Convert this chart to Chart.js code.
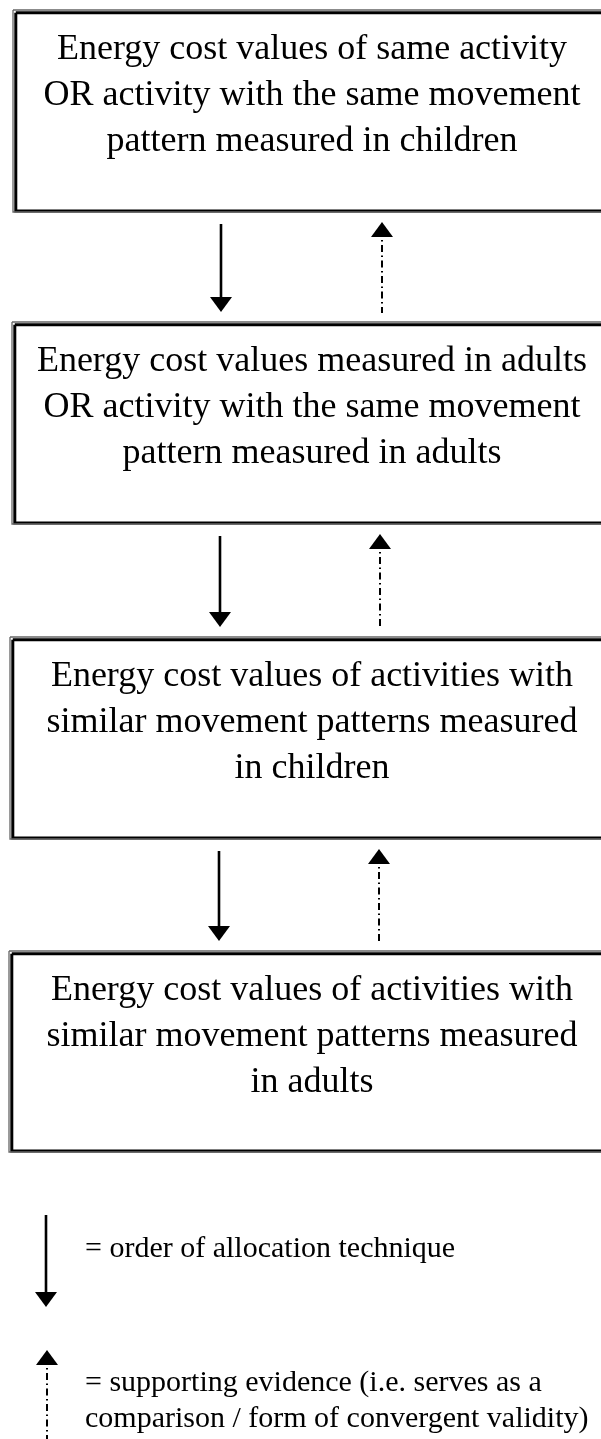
<!DOCTYPE html>
<html>
<head>
<meta charset="utf-8">
<script src="https://cdn.jsdelivr.net/npm/chart.js@4.4.0/dist/chart.umd.min.js"></script>
<style>
  html, body { margin: 0; padding: 0; background: #fff; }
  #wrap { width: 601px; height: 1439px; position: relative; }
</style>
</head>
<body>
<div id="wrap"><canvas id="flow"></canvas></div>
<script>
// texts of the four steps (top to bottom)
const stepLines = [
  ['Energy cost values of same activity', 'OR activity with the same movement', 'pattern measured in children'],
  ['Energy cost values measured in adults', 'OR activity with the same movement', 'pattern measured in adults'],
  ['Energy cost values of activities with', 'similar movement patterns measured', 'in children'],
  ['Energy cost values of activities with', 'similar movement patterns measured', 'in adults']
];
const legendOrder = ['= order of allocation technique'];
const legendSupport = ['= supporting evidence (i.e. serves as a', 'comparison / form of convergent validity)'];

// layout (page units, y grows downward)
const boxTop = [10, 322, 637, 951];
const boxBottom = [212, 524, 839, 1152];
const boxLeft = [13, 12, 10, 9];
const boxRight = 625;
const textX = 312;
const downX = [221, 220, 219];
const upX = [382, 380, 379];
const legendX = { down: 46, up: 47, text: 85 };

const FONT = '"Liberation Serif", "Times New Roman", serif';
const HEAD_W = 22, HEAD_H = 15;

function makeHead(up) {
  const c = document.createElement('canvas');
  c.width = HEAD_W; c.height = HEAD_H;
  const g = c.getContext('2d');
  g.fillStyle = '#000';
  g.beginPath();
  if (up) {
    g.moveTo(HEAD_W / 2, 0); g.lineTo(HEAD_W, HEAD_H); g.lineTo(0, HEAD_H);
  } else {
    g.moveTo(0, 0); g.lineTo(HEAD_W, 0); g.lineTo(HEAD_W / 2, HEAD_H);
  }
  g.closePath();
  g.fill();
  return c;
}
const downHead = makeHead(false);
const upHead = makeHead(true);

function rect(x0, y0, x1, y1) {
  return [{x: x0, y: y0}, {x: x1, y: y0}, {x: x1, y: y1}, {x: x0, y: y1}, {x: x0, y: y0}];
}

const datasets = [];

// boxes: thin outer line + heavier inner line
boxTop.forEach((t, i) => {
  const b = boxBottom[i], l = boxLeft[i];
  datasets.push({ data: rect(l, t, boxRight, b), borderColor: '#666', borderWidth: 1.3, pointRadius: 0 });
  datasets.push({ data: rect(l + 2.8, t + 2.8, boxRight, b - 1), borderColor: '#000', borderWidth: 3, pointRadius: 0 });
});

function downArrow(x, top, tip) {
  datasets.push({
    data: [{x, y: top}, {x, y: tip - HEAD_H / 2}],
    borderColor: '#000', borderWidth: 2.6,
    pointRadius: [0, 5], pointStyle: downHead
  });
}
function upArrow(x, tip, bottom) {
  datasets.push({
    data: [{x, y: tip + HEAD_H / 2}, {x, y: bottom}],
    borderColor: '#000', borderWidth: 2, borderDash: [7, 3.5, 1.5, 3.5],
    pointRadius: [5, 0], pointStyle: upHead
  });
}

// arrows between consecutive boxes
for (let i = 0; i < 3; i++) {
  downArrow(downX[i], boxBottom[i] + 12, boxTop[i + 1] - 10);
  upArrow(upX[i], boxBottom[i] + 10, boxTop[i + 1] - 9);
}
// legend arrows
downArrow(legendX.down, 1215, 1307);
upArrow(legendX.up, 1350, 1445);

const textPlugin = {
  id: 'flowText',
  afterDatasetsDraw(chart) {
    const { ctx, scales: { x, y } } = chart;
    ctx.save();
    ctx.fillStyle = '#000';
    ctx.textBaseline = 'middle';
    ctx.textAlign = 'center';
    ctx.font = '36px ' + FONT;
    stepLines.forEach((lines, i) => {
      lines.forEach((s, j) => {
        ctx.fillText(s, x.getPixelForValue(textX), y.getPixelForValue(boxTop[i] + 40 + j * 46));
      });
    });
    ctx.textAlign = 'left';
    ctx.font = '30px ' + FONT;
    legendOrder.forEach((s, j) => {
      ctx.fillText(s, x.getPixelForValue(legendX.text), y.getPixelForValue(1249 + j * 36));
    });
    legendSupport.forEach((s, j) => {
      ctx.fillText(s, x.getPixelForValue(legendX.text), y.getPixelForValue(1383 + j * 36));
    });
    ctx.restore();
  }
};

new Chart(document.getElementById('flow'), {
  type: 'scatter',
  data: { datasets },
  options: {
    responsive: true,
    maintainAspectRatio: false,
    animation: false,
    showLine: true,
    layout: { padding: 0, autoPadding: false },
    elements: { line: { tension: 0, fill: false } },
    plugins: { legend: { display: false }, tooltip: { enabled: false } },
    events: [],
    scales: {
      x: { type: 'linear', min: 0, max: 601, display: false },
      y: { type: 'linear', min: 0, max: 1439, reverse: true, display: false }
    }
  },
  plugins: [textPlugin]
});
</script>
</body>
</html>
